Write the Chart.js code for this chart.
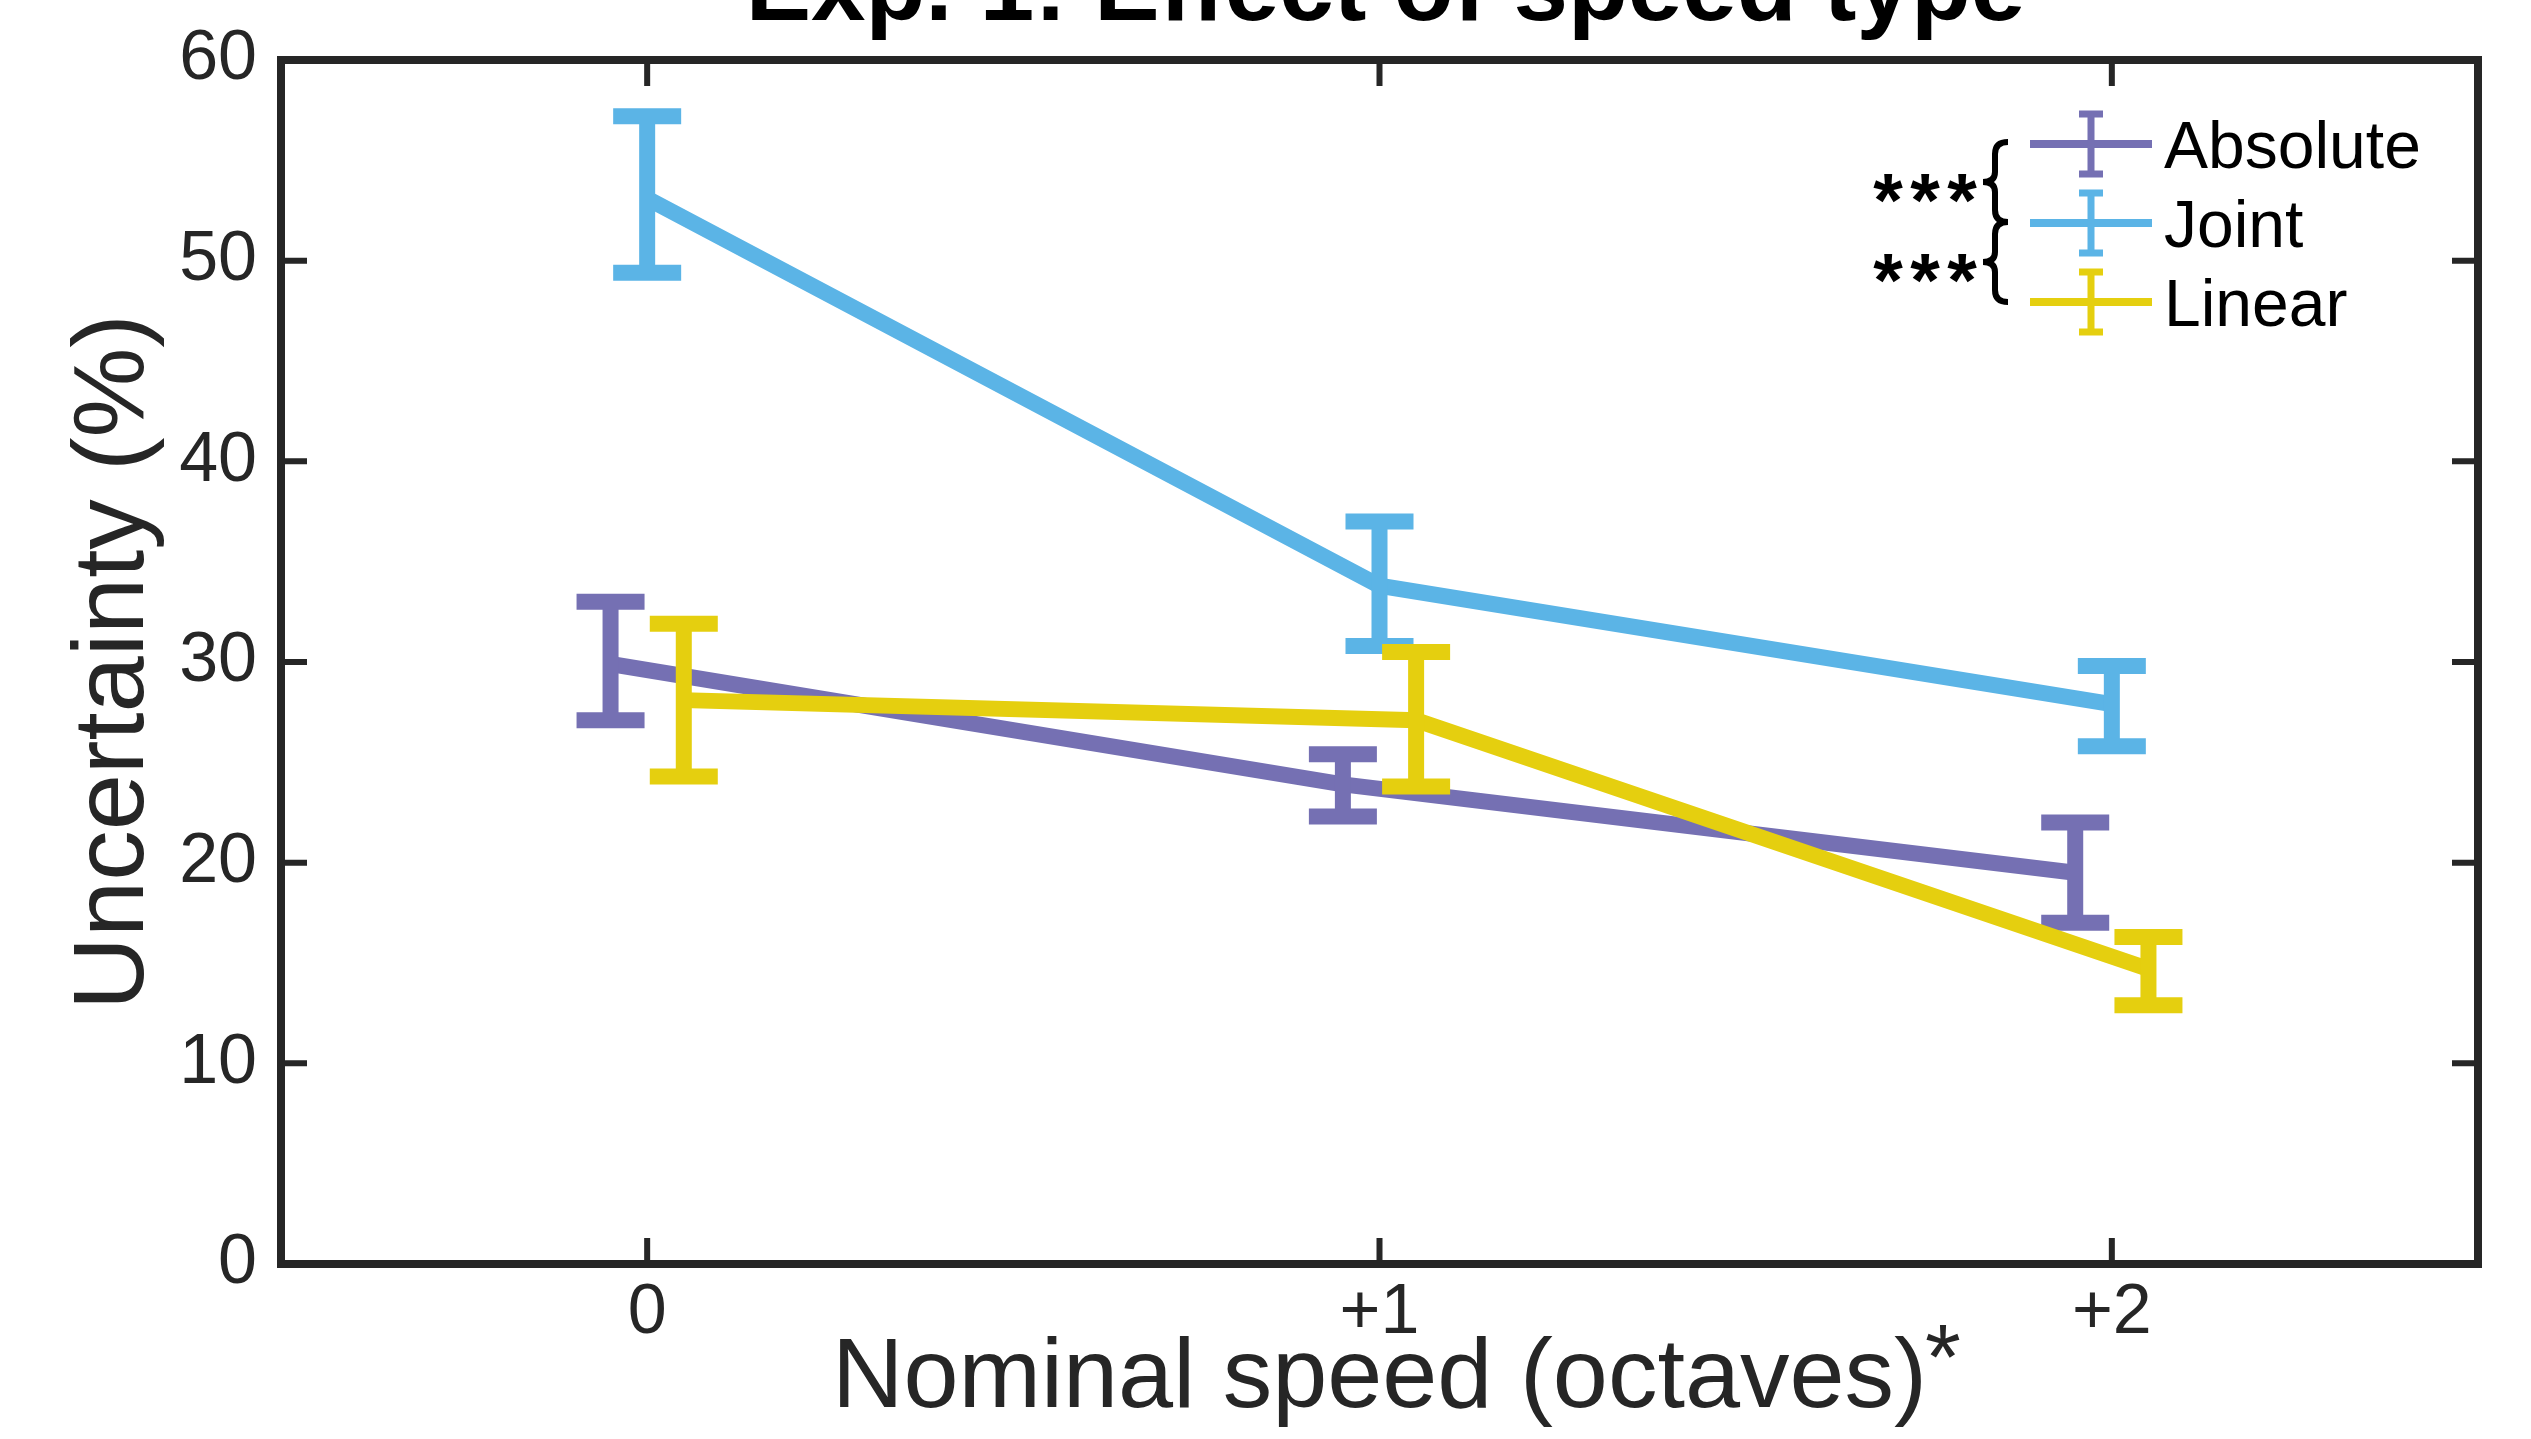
<!DOCTYPE html>
<html>
<head>
<meta charset="utf-8">
<title>Exp. 1: Effect of speed type</title>
<script src="https://cdn.jsdelivr.net/npm/chart.js@4.4.1/dist/chart.umd.min.js"></script>
<style>
  html, body { margin: 0; padding: 0; background: #fff; }
  #wrap { width: 2531px; height: 1439px; }
</style>
</head>
<body>
<div id="wrap"><canvas id="myChart" width="2531" height="1439"></canvas></div>
<script>
// nominal speed (octaves)
const speeds = [0, 1, 2];
const speedLabels = ['0', '+1', '+2'];

// uncertainty (%), mean and error bar ends
const absoluteMean = [29.9, 23.9, 19.5];
const absoluteLow = [27.1, 22.3, 17.0];
const absoluteHigh = [33.0, 25.4, 22.0];

const jointMean = [53.1, 33.8, 27.9];
const jointLow = [49.4, 30.8, 25.8];
const jointHigh = [57.2, 37.0, 29.8];

const linearMean = [28.1, 27.1, 14.7];
const linearLow = [24.3, 23.8, 12.9];
const linearHigh = [31.9, 30.5, 16.3];

const yTicks = [0, 10, 20, 30, 40, 50, 60];

const purple = '#7570b3';
const blue = '#5bb4e6';
const yellow = '#e5cf0f';
const axisColor = '#262626';
const fontName = '"Liberation Sans", Arial, Helvetica, sans-serif';
const dodge = 0.05; // groups are shifted a bit sideways so the bars dont overlap

function points(mean, shift) {
    var arr = [];
    for (var i = 0; i < speeds.length; i++) {
        arr.push({ x: speeds[i] + shift, y: mean[i] });
    }
    return arr;
}

// error bars, drawn right after each line so the stacking matches
const errorBars = {
    id: 'errorBars',
    afterDatasetDraw(chart, args) {
        const ds = chart.data.datasets[args.index];
        const ctx = chart.ctx;
        const xs = chart.scales.x, ys = chart.scales.y;
        ctx.save();
        ctx.strokeStyle = ds.borderColor;
        ctx.lineWidth = 16;
        ctx.lineCap = 'butt';
        for (var i = 0; i < ds.data.length; i++) {
            var px = xs.getPixelForValue(ds.data[i].x);
            var top = ys.getPixelForValue(ds.errHigh[i]);
            var bot = ys.getPixelForValue(ds.errLow[i]);
            ctx.beginPath();
            ctx.moveTo(px, top - 8);
            ctx.lineTo(px, bot + 8);
            ctx.moveTo(px - 34, top);
            ctx.lineTo(px + 34, top);
            ctx.moveTo(px - 34, bot);
            ctx.lineTo(px + 34, bot);
            ctx.stroke();
        }
        ctx.restore();
    }
};

// matlab style box with inward ticks on all four sides
const frame = {
    id: 'frame',
    beforeDatasetsDraw(chart) {
        const ctx = chart.ctx;
        const a = chart.chartArea;
        const xs = chart.scales.x, ys = chart.scales.y;
        const len = 26;
        ctx.save();
        ctx.strokeStyle = axisColor;
        ctx.lineWidth = 6;
        ctx.beginPath();
        speeds.forEach(function (v) {
            var px = xs.getPixelForValue(v);
            ctx.moveTo(px, a.bottom); ctx.lineTo(px, a.bottom - len);
            ctx.moveTo(px, a.top); ctx.lineTo(px, a.top + len);
        });
        yTicks.forEach(function (v) {
            var py = ys.getPixelForValue(v);
            ctx.moveTo(a.left, py); ctx.lineTo(a.left + len, py);
            ctx.moveTo(a.right, py); ctx.lineTo(a.right - len, py);
        });
        ctx.stroke();
        ctx.lineWidth = 8;
        ctx.strokeRect(a.left, a.top, a.right - a.left, a.bottom - a.top);
        ctx.restore();
    }
};

// title, the asterisk on the x label, and the legend with its brackets
const extras = {
    id: 'extras',
    afterDraw(chart) {
        const ctx = chart.ctx;
        const a = chart.chartArea;
        ctx.save();

        ctx.fillStyle = '#000';
        ctx.font = 'bold 98px ' + fontName;
        ctx.textAlign = 'center';
        ctx.textBaseline = 'alphabetic';
        ctx.fillText('Exp. 1: Effect of speed type', (a.left + a.right) / 2 + 6, 20);

        // superscript star after the x axis title
        const xs = chart.scales.x;
        ctx.font = '99px ' + fontName;
        var w = ctx.measureText(xs.options.title.text).width;
        ctx.font = '92px ' + fontName;
        ctx.textAlign = 'left';
        ctx.fillStyle = axisColor;
        ctx.fillText('*', (xs.left + xs.right) / 2 + w / 2 - 2, 1389);

        // legend
        const rows = [
            { label: 'Absolute', color: purple },
            { label: 'Joint', color: blue },
            { label: 'Linear', color: yellow }
        ];
        const x0 = a.right - 448, x1 = a.right - 326, xm = a.right - 387;
        ctx.lineCap = 'butt';
        rows.forEach(function (r, i) {
            var y = a.top + 84 + i * 79;
            ctx.strokeStyle = r.color;
            ctx.lineWidth = 8;
            ctx.beginPath();
            ctx.moveTo(x0, y); ctx.lineTo(x1, y);
            ctx.stroke();
            ctx.lineWidth = 7;
            ctx.beginPath();
            ctx.moveTo(xm, y - 33); ctx.lineTo(xm, y + 33);
            ctx.moveTo(xm - 12, y - 30); ctx.lineTo(xm + 12, y - 30);
            ctx.moveTo(xm - 12, y + 30); ctx.lineTo(xm + 12, y + 30);
            ctx.stroke();
            ctx.fillStyle = '#000';
            ctx.font = '66px ' + fontName;
            ctx.textAlign = 'left';
            ctx.fillText(r.label, x1 + 12, y + 24);
        });

        // braces for the two significant pairs
        ctx.strokeStyle = '#000';
        ctx.lineWidth = 6;
        for (var b = 0; b < 2; b++) {
            var yt = a.top + 82 + b * 80, yb = yt + 80, ym = (yt + yb) / 2;
            var xr = a.right - 470, xc = xr - 13, xl = xr - 25;
            ctx.beginPath();
            ctx.moveTo(xr, yt);
            ctx.quadraticCurveTo(xc, yt, xc, yt + 12);
            ctx.lineTo(xc, ym - 10);
            ctx.quadraticCurveTo(xc, ym, xl, ym);
            ctx.quadraticCurveTo(xc, ym, xc, ym + 10);
            ctx.lineTo(xc, yb - 12);
            ctx.quadraticCurveTo(xc, yb, xr, yb);
            ctx.stroke();

            ctx.font = 'bold 76px ' + fontName;
            ctx.textAlign = 'center';
            for (var k = 0; k < 3; k++) {
                ctx.fillText('*', a.right - 590 + k * 37, ym + 44);
            }
        }
        ctx.restore();
    }
};

const ctx = document.getElementById('myChart').getContext('2d');

window.myChart = new Chart(ctx, {
    type: 'scatter',
    data: {
        datasets: [{
            label: 'Absolute',
            data: points(absoluteMean, -dodge),
            errLow: absoluteLow,
            errHigh: absoluteHigh,
            borderColor: purple,
            order: 3
        }, {
            label: 'Joint',
            data: points(jointMean, 0),
            errLow: jointLow,
            errHigh: jointHigh,
            borderColor: blue,
            order: 2
        }, {
            label: 'Linear',
            data: points(linearMean, dodge),
            errLow: linearLow,
            errHigh: linearHigh,
            borderColor: yellow,
            order: 1
        }]
    },
    options: {
        responsive: false,
        animation: false,
        devicePixelRatio: 1,
        showLine: true,
        layout: { padding: { top: 60, right: 53, left: 0, bottom: 0 } },
        elements: {
            line: { borderWidth: 16, tension: 0, borderCapStyle: 'butt', borderJoinStyle: 'miter', fill: false },
            point: { radius: 0, hoverRadius: 0 }
        },
        plugins: {
            legend: { display: false },
            tooltip: { enabled: false }
        },
        scales: {
            x: {
                type: 'linear',
                min: -0.5,
                max: 2.5,
                afterFit: function (s) {
                    s.height = 175;
                    s.paddingLeft = 0;
                    s.paddingRight = 0;
                },
                afterBuildTicks: function (s) {
                    s.ticks = speeds.map(function (v) { return { value: v }; });
                },
                ticks: {
                    callback: function (v) { return speedLabels[speeds.indexOf(v)]; },
                    font: { family: fontName, size: 70 },
                    color: axisColor,
                    padding: 8,
                    maxRotation: 0
                },
                grid: { display: false, drawTicks: false },
                border: { display: false },
                title: {
                    display: true,
                    text: 'Nominal speed (octaves)',
                    font: { family: fontName, size: 99 },
                    color: axisColor,
                    padding: { top: 0, bottom: 0 }
                }
            },
            y: {
                min: 0,
                max: 60,
                afterFit: function (s) {
                    s.width = 281;
                    s.paddingTop = 0;
                    s.paddingBottom = 0;
                },
                afterBuildTicks: function (s) {
                    s.ticks = yTicks.map(function (v) { return { value: v }; });
                },
                ticks: {
                    font: { family: fontName, size: 70 },
                    color: axisColor,
                    padding: 24
                },
                grid: { display: false, drawTicks: false },
                border: { display: false },
                title: {
                    display: true,
                    text: 'Uncertainty (%)',
                    font: { family: fontName, size: 101 },
                    color: axisColor,
                    padding: { top: 55, bottom: 0 }
                }
            }
        }
    },
    plugins: [frame, errorBars, extras]
});
</script>
</body>
</html>
